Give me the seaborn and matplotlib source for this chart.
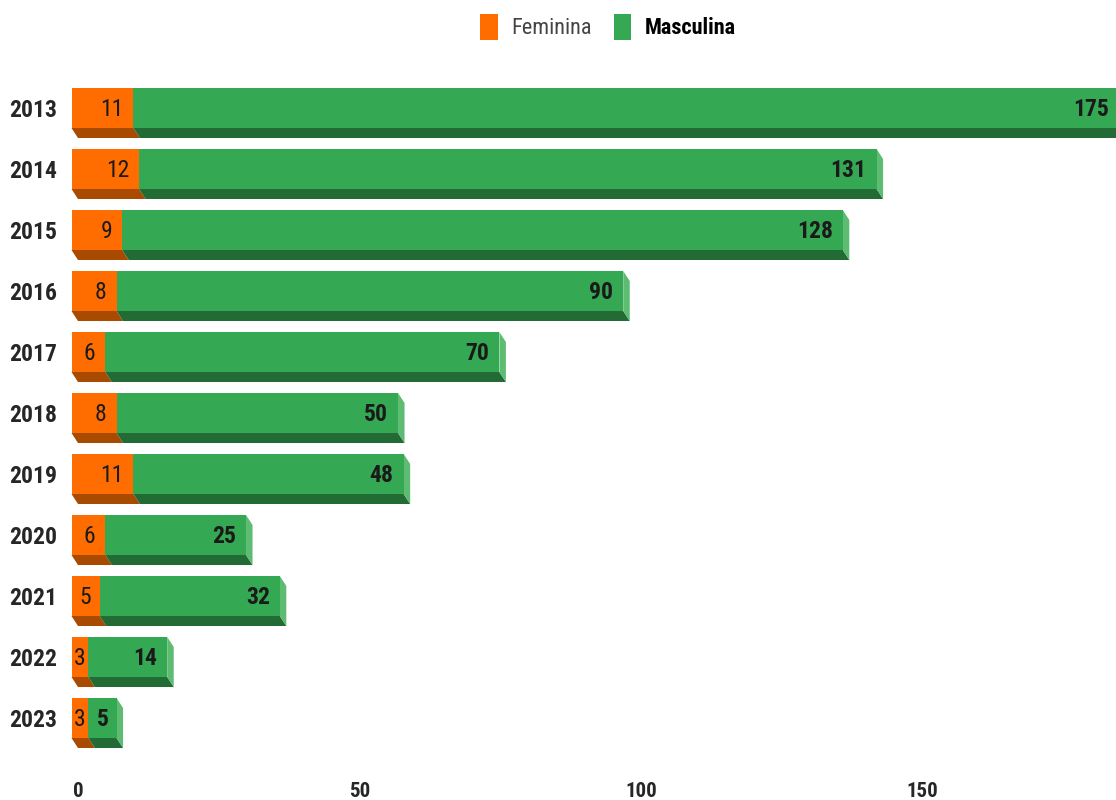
import matplotlib
matplotlib.use("Agg")
import matplotlib.pyplot as plt
from matplotlib.patches import Polygon, Patch
from matplotlib.transforms import Affine2D
from matplotlib import font_manager
import seaborn as sns
import numpy as np
import pandas as pd

# dados
anos = ["2013", "2014", "2015", "2016", "2017", "2018", "2019", "2020", "2021", "2022", "2023"]
feminina = [11, 12, 9, 8, 6, 8, 11, 6, 5, 3, 3]
masculina = [175, 131, 128, 90, 70, 50, 48, 25, 32, 14, 5]

laranja, laranja_esc = "#ff6d01", "#a84a00"
verde, verde_esc, verde_cla = "#34a853", "#236b35", "#5dbb72"

sns.set_style("white")
nomes = set(f.name for f in font_manager.fontManager.ttflist)
fonte = next(n for n in ["Roboto Condensed", "Liberation Sans Narrow", "Archivo Narrow", "DejaVu Sans"] if n in nomes)
plt.rcParams["font.family"] = [fonte, "DejaVu Sans"]

df = pd.DataFrame({"ano": anos, "fem": feminina, "masc": masculina})
df["total"] = df["fem"] + df["masc"]

fig = plt.figure(figsize=(11.16, 8), dpi=100)
ax = fig.add_axes([60 / 1116, 40 / 800, 1056 / 1116, 690 / 800])

h = 0.656
sns.barplot(data=df, x="total", y="ano", color=verde, saturation=1, width=h, orient="h", ax=ax)
sns.barplot(data=df, x="fem", y="ano", color=laranja, saturation=1, width=h, orient="h", ax=ax)

px = 5.63          # pixels por unidade
dx = 6.5 / px      # profundidade 3D
dy = 10 / 61

# desloca a face frontal
desloc = Affine2D().translate(-dx, -dy) + ax.transData
for p in ax.patches:
    p.set_transform(desloc)
    p.set_linewidth(0)
    p.set_zorder(3)

for i, r in df.iterrows():
    base = i + h / 2
    topo = i - h / 2
    # faces inferiores
    for x0, x1, c in [(0, r["fem"], laranja_esc), (r["fem"], r["total"], verde_esc)]:
        ax.add_patch(Polygon([(x0 - dx, base - dy), (x1 - dx, base - dy), (x1, base), (x0, base)],
                             closed=True, fc=c, lw=0, zorder=2))
    # face lateral
    t = r["total"]
    ax.add_patch(Polygon([(t - dx, topo - dy), (t, topo), (t, base), (t - dx, base - dy)],
                         closed=True, fc=verde_cla, lw=0, zorder=2))

    # rótulos
    for x0, x1, v, peso in [(0, r["fem"], r["fem"], "normal"), (r["fem"], r["total"], r["masc"], "bold")]:
        larg = (x1 - x0) * px
        if larg < 30:
            ax.text((x0 + x1) / 2 - dx, i - dy + 0.02, str(v), ha="center", va="center",
                    fontsize=17, fontweight=peso, color="#1a1a1a", zorder=4)
        else:
            ax.text(x1 - dx - 10 / px, i - dy + 0.02, str(v), ha="right", va="center",
                    fontsize=17, fontweight=peso, color="#1a1a1a", zorder=4)

ax.set_xlim(-18 / px, 1038 / px)
ax.set_ylim((760 - 118) / 61, (70 - 118) / 61)
ax.set_xticks([0, 50, 100, 150])
ax.set_xticklabels(["0", "50", "100", "150"], fontsize=15, fontweight="bold")
ax.set_yticks(np.arange(len(anos)) - dy)
ax.set_yticklabels(anos, fontsize=17, fontweight="bold")
ax.tick_params(axis="x", length=0, pad=16)
ax.tick_params(axis="y", length=0, pad=2)
ax.set_xlabel("")
ax.set_ylabel("")
sns.despine(ax=ax, left=True, bottom=True)

alcas = [Patch(fc=laranja, ec="none"), Patch(fc=verde, ec="none")]
leg = fig.legend(alcas, ["Feminina", "Masculina"], loc="center", bbox_to_anchor=(608 / 1116, 1 - 27 / 800),
                 ncol=2, frameon=False, fontsize=16, handlelength=0.78, handleheight=1.4,
                 handletextpad=0.6, columnspacing=1.0)
leg.get_texts()[0].set_color("#444444")
leg.get_texts()[1].set_fontweight("bold")
leg.get_texts()[1].set_color("#000000")

fig.savefig("out.png", dpi=100)
